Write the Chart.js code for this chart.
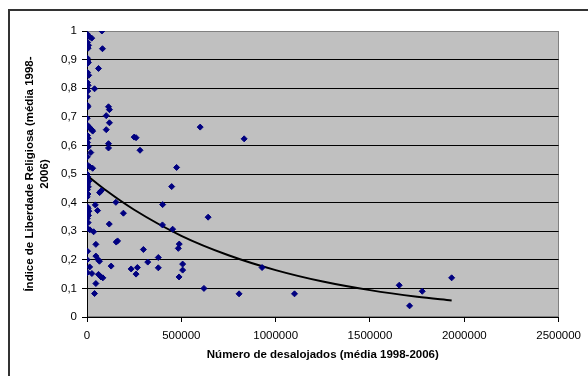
<!DOCTYPE html>
<html>
<head>
<meta charset="utf-8">
<title>Liberdade religiosa vs desalojados</title>
<script src="https://cdn.jsdelivr.net/npm/chart.js@4.4.1/dist/chart.umd.min.js"></script>
<style>
    html, body { margin: 0; padding: 0; background: #fff; overflow: hidden; }
    #wrap { position: relative; width: 588px; height: 376px; }
    #frame {
        position: absolute; left: 8px; top: 9px; width: 700px; height: 500px;
        border-left: 2px solid #333; border-top: 2px solid #333;
    }
    #chart { position: absolute; left: 0; top: 0; }
</style>
</head>
<body>
<div id="wrap">
    <div id="frame"></div>
    <canvas id="chart" width="588" height="376"></canvas>
</div>
<script>
// Número de desalojados (x) and Índice de Liberdade Religiosa (y)
const displacedX = [
    0, 5000, 12000, 25000, 3000, 8000, 6000, 2000, 4000, 7000,
    1000, 3000, 9000, 2000, 6000, 1000, 4000, 2000, 3000, 5000,
    1000, 4000, 8000, 15000, 25000, 30000, 2000, 6000, 3000, 1000,
    7000, 20000, 2000, 5000, 15000, 30000, 0, 4000, 10000, 3000,
    7000, 2000, 5000, 1000, 2000, 6000, 0, 10000, 4000, 8000,
    2000, 6000, 1000, 15000, 3000, 1000, 2000,
    79000, 82000, 61000, 40000, 114000, 119000, 102000, 119000, 102000, 114000,
    114000, 250000, 260000, 281000, 600000, 833000, 475000, 449000, 67000, 76000,
    44000, 56000, 153000, 193000, 118000, 401000, 400000, 454000, 642000, 155000,
    162000, 299000, 322000, 378000, 378000, 484000, 489000, 507000, 507000, 488000,
    234000, 260000, 267000, 128000, 35000, 47000, 47000, 60000, 66000, 26000,
    14000, 47000, 40000, 61000, 74000, 84000, 620000, 806000, 928000, 1100000,
    1655000, 1710000, 1777000, 1933000
];
const freedomY = [
    0.99, 0.985, 0.98, 0.975, 0.96, 0.95, 0.94, 0.905, 0.895, 0.89,
    0.885, 0.855, 0.845, 0.82, 0.81, 0.80, 0.79, 0.77, 0.74, 0.735,
    0.695, 0.67, 0.665, 0.66, 0.655, 0.65, 0.635, 0.625, 0.61, 0.60,
    0.595, 0.575, 0.56, 0.53, 0.525, 0.52, 0.50, 0.49, 0.475, 0.465,
    0.455, 0.445, 0.43, 0.42, 0.385, 0.38, 0.375, 0.37, 0.36, 0.355,
    0.345, 0.33, 0.31, 0.305, 0.23, 0.20, 0.155,
    1.0, 0.938, 0.869, 0.798, 0.735, 0.725, 0.704, 0.679, 0.655, 0.606,
    0.591, 0.629, 0.627, 0.583, 0.664, 0.623, 0.523, 0.456, 0.435, 0.442,
    0.392, 0.372, 0.401, 0.363, 0.325, 0.393, 0.322, 0.307, 0.349, 0.262,
    0.266, 0.236, 0.192, 0.208, 0.172, 0.24, 0.255, 0.185, 0.164, 0.14,
    0.168, 0.15, 0.173, 0.178, 0.298, 0.254, 0.213, 0.20, 0.195, 0.152,
    0.175, 0.117, 0.082, 0.149, 0.14, 0.137, 0.10, 0.081, 0.173, 0.081,
    0.111, 0.039, 0.09, 0.137
];

// trend curve, sampled by eye along the drawn line
const trendX = [0, 100000, 250000, 500000, 750000, 1000000, 1250000, 1500000, 1750000, 1933000];
const trendY = [0.495, 0.443, 0.375, 0.284, 0.216, 0.164, 0.124, 0.094, 0.071, 0.058];

// tick labels
const xTickLabels = ['0', '500000', '1000000', '1500000', '2000000', '2500000'];
const yTickLabels = ['0', '0,1', '0,2', '0,3', '0,4', '0,5', '0,6', '0,7', '0,8', '0,9', '1'];

const xTitle = 'Número de desalojados (média 1998-2006)';
const yTitle = ['Índice de Liberdade Religiosa (média 1998-', '2006)'];

const FONT = '"Liberation Sans", Arial, sans-serif';

// grey plot area with a thin grey frame (Excel look)
const plotBackground = {
    id: 'plotBackground',
    beforeDraw(chart) {
        const { ctx, chartArea: a } = chart;
        ctx.save();
        ctx.fillStyle = '#C0C0C0';
        ctx.fillRect(a.left, a.top, a.right - a.left, a.bottom - a.top);
        ctx.strokeStyle = '#808080';
        ctx.lineWidth = 1;
        ctx.strokeRect(Math.round(a.left) + 0.5, Math.round(a.top) + 0.5,
            Math.round(a.right - a.left) - 1, Math.round(a.bottom - a.top) - 1);
        ctx.restore();
    }
};

const points = displacedX.map((x, i) => ({ x: x, y: freedomY[i] }));
const trend = trendX.map((x, i) => ({ x: x, y: trendY[i] }));

new Chart(document.getElementById('chart'), {
    type: 'scatter',
    data: {
        datasets: [{
            data: points,
            pointStyle: 'rectRot',
            pointRadius: 3,
            pointBorderWidth: 1,
            backgroundColor: '#000080',
            borderColor: '#000080',
            pointHoverRadius: 3
        }, {
            type: 'line',
            data: trend,
            borderColor: '#000000',
            borderWidth: 2,
            pointRadius: 0,
            fill: false,
            cubicInterpolationMode: 'monotone'
        }]
    },
    options: {
        responsive: false,
        devicePixelRatio: 1,
        animation: false,
        layout: { padding: { left: 0, top: 31, right: 28, bottom: 0 } },
        plugins: {
            legend: { display: false },
            tooltip: { enabled: false }
        },
        scales: {
            x: {
                type: 'linear',
                min: 0,
                max: 2500000,
                afterFit: function(scale) { scale.height = 59; },
                ticks: {
                    stepSize: 500000,
                    maxRotation: 0,
                    padding: 7,
                    color: '#000',
                    font: { family: FONT, size: 11.5 },
                    callback: function(value, index) { return xTickLabels[index]; }
                },
                grid: { drawOnChartArea: false, tickLength: 5, color: '#000', tickColor: '#000' },
                border: { color: '#000', width: 1 },
                title: {
                    display: true,
                    text: xTitle,
                    color: '#000',
                    padding: { top: 0, bottom: 14 },
                    font: { family: FONT, size: 11.5, weight: 'bold' }
                }
            },
            y: {
                min: 0,
                max: 1,
                afterFit: function(scale) { scale.width = 87; },
                ticks: {
                    stepSize: 0.1,
                    padding: 5,
                    color: '#000',
                    font: { family: FONT, size: 11.5 },
                    callback: function(value, index) { return yTickLabels[index]; }
                },
                grid: {
                    tickLength: 5,
                    tickColor: '#000',
                    lineWidth: 1,
                    color: function(ctx) {
                        return ctx.tick && ctx.tick.value >= 0.999 ? '#808080' : '#000';
                    }
                },
                border: { color: '#000', width: 1 },
                title: {
                    display: true,
                    text: yTitle,
                    color: '#000',
                    padding: { top: 23, bottom: 0 },
                    font: { family: FONT, size: 11.5, weight: 'bold', lineHeight: 1.25 }
                }
            }
        }
    },
    plugins: [plotBackground]
});
</script>
</body>
</html>
